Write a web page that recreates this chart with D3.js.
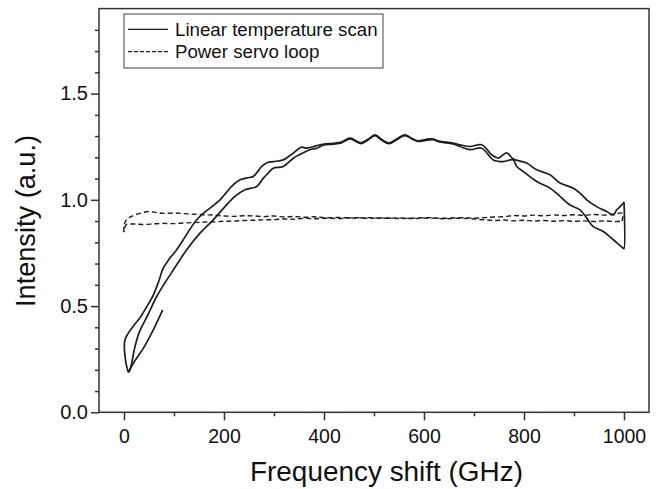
<!DOCTYPE html>
<html>
<head>
<meta charset="utf-8">
<script src="https://cdn.jsdelivr.net/npm/d3@7/dist/d3.min.js"></script>
<style>
html, body { margin: 0; padding: 0; background: #fff; }
svg { display: block; font-family: "Liberation Sans", Arial, sans-serif; }
</style>
</head>
<body>
<svg id="chart" width="657" height="489"></svg>
<script>
// ticks
var xMajor = [0, 200, 400, 600, 800, 1000];
var xMinor = [100, 300, 500, 700, 900];
var yMajor = [0, 0.5, 1.0, 1.5];
var yMinor = [0.1, 0.2, 0.3, 0.4, 0.6, 0.7, 0.8, 0.9, 1.1, 1.2, 1.3, 1.4, 1.6, 1.7, 1.8];

var legendLabels = ["Linear temperature scan", "Power servo loop"];

// linear temperature scan: forward sweep, return sweep, restart
var scanForward = [[8.6,0.188],[4,0.231],[1.4,0.336],[8,0.37],[20,0.41],[32,0.445],[45,0.495],[58.6,0.552],
  [70,0.62],[78,0.676],[90,0.72],[105,0.764],[118.6,0.812],[132,0.862],[145.4,0.906],[158,0.935],[172,0.961],
  [192,1.0],[205,1.035],[215.4,1.063],[232,1.094],[246,1.103],[258.6,1.110],[268,1.135],[275.4,1.157],
  [287,1.176],[298.6,1.180],[318.6,1.188],[330,1.205],[338.6,1.220],[355.4,1.248],[365.4,1.243],[385.4,1.255],
  [400,1.262],[418,1.266],[435,1.272],[452,1.291],[462,1.280],[474,1.268],[488,1.285],[502,1.306],[515,1.285],
  [530,1.268],[546,1.288],[562,1.306],[575,1.290],[588,1.278],[603,1.284],[617,1.287],[632,1.275],[645,1.272],
  [660,1.266],[672,1.259],[692,1.251],[715.4,1.259],[735.4,1.212],[748.6,1.196],[765.4,1.221],[778.6,1.192],
  [805.4,1.173],[825.4,1.141],[852,1.118],[872,1.079],[898.6,1.055],[912,1.032],[925.4,1.0],[945.4,0.968],
  [965.4,0.945],[978.6,0.929],[985.4,0.953],[992,0.968],[998.6,0.984],[1000,0.99]];

var scanReturn = [[1000,0.99],[1000,0.77],[998.6,0.772],[978.6,0.812],[958.6,0.851],[938.6,0.874],[925.4,0.914],
  [912,0.953],[892,0.976],[872,1.016],[852,1.055],[825.4,1.086],[798.6,1.133],[785.4,1.157],[778.6,1.188],
  [758.6,1.180],[738.6,1.188],[715.4,1.243],[692,1.236],[672,1.251],[660,1.262],[645,1.268],[632,1.272],
  [617,1.283],[603,1.280],[588,1.275],[575,1.288],[562,1.302],[546,1.284],[530,1.264],[515,1.281],[502,1.302],
  [488,1.281],[474,1.264],[462,1.277],[452,1.287],[435,1.268],[418,1.262],[400,1.258],[385.4,1.243],[372,1.236],
  [358.6,1.222],[338.6,1.196],[318.6,1.157],[298.6,1.149],[288,1.125],[278.6,1.102],[265.4,1.063],[242,1.047],
  [222,1.016],[202,0.968],[178.6,0.906],[152,0.843],[125.4,0.765],[98.6,0.670],[82,0.61],[65.4,0.545],
  [48,0.46],[30,0.374],[22,0.309],[12,0.20],[8.6,0.188]];

var scanRestart = [[8.6,0.188],[18.6,0.231],[38.6,0.301],[58.6,0.388],[77.4,0.482]];

// power servo loop
var servoForward = [[0,0.848],[0,0.88],[5,0.906],[15,0.922],[30,0.935],[50,0.945],[65,0.940],[80,0.936],
  [100,0.938],[120,0.935],[140,0.932],[160,0.930],[180,0.928],[200,0.924],[220,0.922],[240,0.925],[260,0.924],
  [280,0.921],[300,0.924],[320,0.919],[340,0.922],[360,0.918],[380,0.920],[400,0.916],[430,0.917],[460,0.914],
  [490,0.916],[520,0.913],[550,0.915],[580,0.912],[610,0.914],[640,0.911],[670,0.913],[700,0.910],[720,0.906],
  [740,0.903],[760,0.905],[780,0.901],[800,0.904],[820,0.900],[840,0.903],[860,0.899],[880,0.902],[900,0.899],
  [920,0.901],[940,0.898],[960,0.901],[980,0.898],[996,0.900]];

var servoReturn = [[996,0.900],[997,0.937],[980,0.932],[960,0.928],[940,0.931],[920,0.927],[900,0.930],
  [880,0.926],[860,0.929],[840,0.925],[820,0.928],[800,0.924],[780,0.926],[760,0.921],[740,0.919],[720,0.916],
  [700,0.914],[670,0.916],[640,0.913],[610,0.916],[580,0.914],[550,0.912],[520,0.915],[490,0.913],[460,0.916],
  [430,0.912],[400,0.913],[380,0.911],[360,0.913],[340,0.909],[320,0.910],[300,0.907],[280,0.906],[260,0.904],
  [240,0.903],[220,0.900],[200,0.899],[180,0.896],[160,0.895],[140,0.893],[120,0.891],[100,0.888],[80,0.889],
  [60,0.887],[40,0.884],[20,0.886],[4,0.882],[0,0.848]];

var svg = d3.select("#chart");
var plotLeft = 99, plotRight = 649, plotTop = 8.6, plotBottom = 412.3;
var ink = "#1e1e1e";

var x = d3.scaleLinear().domain([-50, 1050]).range([plotLeft, plotRight]);
var y = d3.scaleLinear().domain([0, 1.9]).range([plotBottom, plotTop]);

var line = d3.line()
    .curve(d3.curveCatmullRom.alpha(0.5))
    .x(function(d) { return x(d[0]); })
    .y(function(d) { return y(d[1]); });

// data lines
[servoForward, servoReturn].forEach(function(s) {
  svg.append("path")
      .attr("d", line(s))
      .attr("fill", "none")
      .attr("stroke", ink)
      .attr("stroke-width", 1.4)
      .attr("stroke-dasharray", "5,3");
});
[scanForward, scanReturn, scanRestart].forEach(function(s) {
  svg.append("path")
      .attr("d", line(s))
      .attr("fill", "none")
      .attr("stroke", ink)
      .attr("stroke-width", 1.7)
      .attr("stroke-linejoin", "round");
});

// axes
function styleAxis(g) {
  g.select(".domain").remove();
  g.selectAll("line").attr("stroke", "#333").attr("stroke-width", 1.5);
  g.selectAll("text").attr("fill", "#111").style("font-size", "19.5px");
}

svg.append("g")
    .attr("transform", "translate(0," + plotBottom + ")")
    .call(d3.axisBottom(x).tickValues(xMajor).tickFormat(d3.format("d")).tickSize(8).tickPadding(9))
    .call(styleAxis);
svg.append("g")
    .attr("transform", "translate(0," + plotBottom + ")")
    .call(d3.axisBottom(x).tickValues(xMinor).tickFormat("").tickSize(4))
    .call(styleAxis);
svg.append("g")
    .attr("transform", "translate(" + plotLeft + ",0)")
    .call(d3.axisLeft(y).tickValues(yMajor).tickFormat(d3.format(".1f")).tickSize(8).tickPadding(3))
    .call(styleAxis)
    .selectAll("text").style("font-size", "20px");
svg.append("g")
    .attr("transform", "translate(" + plotLeft + ",0)")
    .call(d3.axisLeft(y).tickValues(yMinor).tickFormat("").tickSize(4))
    .call(styleAxis);

// frame
svg.append("rect")
    .attr("x", plotLeft).attr("y", plotTop)
    .attr("width", plotRight - plotLeft).attr("height", plotBottom - plotTop)
    .attr("fill", "none")
    .attr("stroke", "#333")
    .attr("stroke-width", 1.5);

// titles
svg.append("text")
    .attr("x", 386.5).attr("y", 481)
    .attr("text-anchor", "middle")
    .attr("textLength", 273).attr("lengthAdjust", "spacingAndGlyphs")
    .style("font-size", "27px")
    .attr("fill", "#111")
    .text("Frequency shift (GHz)");
svg.append("text")
    .attr("transform", "translate(35,221) rotate(-90)")
    .attr("text-anchor", "middle")
    .attr("textLength", 172).attr("lengthAdjust", "spacingAndGlyphs")
    .style("font-size", "27px")
    .attr("fill", "#111")
    .text("Intensity (a.u.)");

// legend
var lg = svg.append("g");
lg.append("rect")
    .attr("x", 124).attr("y", 14).attr("width", 259).attr("height", 54)
    .attr("fill", "#fff").attr("stroke", "#444").attr("stroke-width", 1);
var rowY = [29.3, 51.7];
legendLabels.forEach(function(label, i) {
  lg.append("line")
      .attr("x1", 128).attr("x2", 168)
      .attr("y1", rowY[i]).attr("y2", rowY[i])
      .attr("stroke", ink).attr("stroke-width", 1.3)
      .attr("stroke-dasharray", i == 1 ? "4,2" : null);
  lg.append("text")
      .attr("x", 175).attr("y", rowY[i] + 6.7)
      .style("font-size", "18.7px")
      .attr("fill", "#111")
      .text(label);
});
</script>
</body>
</html>
